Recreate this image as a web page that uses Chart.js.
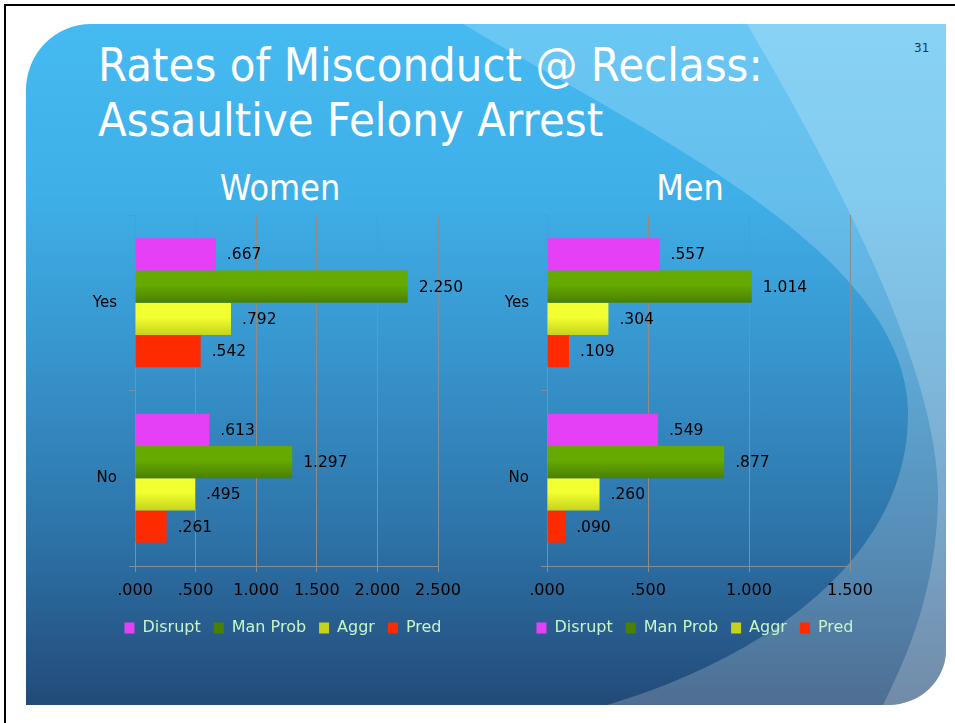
<!DOCTYPE html>
<html>
<head>
<meta charset="utf-8">
<script src="https://cdn.jsdelivr.net/npm/chart.js@4.4.1/dist/chart.umd.min.js"></script>
<style>
    html, body { margin: 0; padding: 0; }
    body { width: 955px; height: 723px; position: relative; overflow: hidden; background: #fff; font-family: 'DejaVu Sans', sans-serif; }
    #bg { position: absolute; left: 0; top: 0; }
    .txt { position: absolute; white-space: nowrap; color: #fff; }
    .title { left: 98px; font-size: 47px; line-height: 47px; transform: scaleX(0.895); transform-origin: left center; }
    .sub { width: 300px; text-align: center; font-size: 36px; line-height: 36px; transform: scaleX(0.89); transform-origin: center center; }
    .pg { left: 914px; top: 42px; font-size: 12px; line-height: 12px; color: #1c3556; }
    canvas { position: absolute; }
</style>
</head>
<body>
<svg id="bg" width="955" height="723">
    <defs>
        <linearGradient id="slideFill" x1="0" y1="24" x2="0" y2="705" gradientUnits="userSpaceOnUse">
            <stop offset="0" stop-color="#45baf1"/>
            <stop offset="0.25" stop-color="#3fafe8"/>
            <stop offset="0.5" stop-color="#3793cb"/>
            <stop offset="0.75" stop-color="#2d73a8"/>
            <stop offset="1" stop-color="#234a78"/>
        </linearGradient>
        <clipPath id="slideClip">
            <path d="M26,90 A65,66 0 0 1 91,24 L946,24 L946,650 A58,55 0 0 1 888,705 L26,705 Z"/>
        </clipPath>
    </defs>
    <rect x="4" y="4" width="951" height="2" fill="#000"/>
    <rect x="4" y="4" width="2" height="719" fill="#000"/>
    <path d="M26,90 A65,66 0 0 1 91,24 L946,24 L946,650 A58,55 0 0 1 888,705 L26,705 Z" fill="url(#slideFill)"/>
    <g clip-path="url(#slideClip)">
        <path d="M463,24 C640,130 905,250 908,411 C910,560 760,660 607,705 L946,705 L946,24 Z" fill="#fff" fill-opacity="0.2"/>
        <path d="M747,24 C850,200 940,380 938,500 C936,600 900,670 883,705 L946,705 L946,24 Z" fill="#fff" fill-opacity="0.2"/>
    </g>
</svg>

<div class="txt title" style="top:41px">Rates of Misconduct @ Reclass:</div>
<div class="txt title" style="top:96px">Assaultive Felony Arrest</div>
<div class="txt pg">31</div>
<div class="txt sub" style="left:130px; top:170px">Women</div>
<div class="txt sub" style="left:540px; top:170px">Men</div>

<canvas id="womenChart" width="394" height="452" style="left:86px; top:194px"></canvas>
<canvas id="menChart" width="393" height="452" style="left:498px; top:194px"></canvas>

<script>
const groups = ['Yes', 'No'];
const seriesNames = ['Disrupt', 'Man Prob', 'Aggr', 'Pred'];

const womenDisrupt = [0.667, 0.613];
const womenManProb = [2.250, 1.297];
const womenAggr = [0.792, 0.495];
const womenPred = [0.542, 0.261];

const menDisrupt = [0.557, 0.549];
const menManProb = [1.014, 0.877];
const menAggr = [0.304, 0.260];
const menPred = [0.109, 0.090];

const womenAxisMax = 2.5;
const menAxisMax = 1.5;
const axisStep = 0.5;

Chart.defaults.font.family = "'DejaVu Sans', sans-serif";
Chart.defaults.color = '#000';

const CAT_PCT = 0.735;
const gridColor = '#8c8c8c';

// ".667" style: three decimals, no leading zero
function fmt(v) {
    return v.toFixed(3).replace(/^0/, '');
}

// vertical gradient per bar, worked out from the category scale
function barFill(topColor, bottomColor) {
    return (ctx) => {
        const chart = ctx.chart;
        const y = chart.scales && chart.scales.y;
        if (!chart.chartArea || !y || ctx.dataIndex === undefined) return topColor;
        const catSize = y.height / groups.length;
        const groupH = catSize * CAT_PCT;
        const barH = groupH / seriesNames.length;
        const center = y.getPixelForValue(ctx.dataIndex);
        const y0 = center - groupH / 2 + ctx.datasetIndex * barH;
        const g = chart.ctx.createLinearGradient(0, y0, 0, y0 + barH);
        g.addColorStop(0, topColor);
        g.addColorStop(0.45, topColor);
        g.addColorStop(1, bottomColor);
        return g;
    };
}

const valueLabels = {
    id: 'valueLabels',
    afterDatasetsDraw(chart) {
        const ctx = chart.ctx;
        ctx.save();
        ctx.font = "15.5px 'DejaVu Sans', sans-serif";
        ctx.fillStyle = '#000';
        ctx.textAlign = 'left';
        ctx.textBaseline = 'middle';
        chart.data.datasets.forEach((ds, i) => {
            chart.getDatasetMeta(i).data.forEach((bar, j) => {
                ctx.fillText(fmt(ds.data[j]), bar.x + 11, bar.y + 1);
            });
        });
        ctx.restore();
    }
};

// the slide centres the legend under the whole chart, not under the padded box
const legendShift = {
    id: 'legendShift',
    afterLayout(chart, args, opts) {
        if (!chart.legend) return;
        chart.legend.left += opts.dx;
        chart.legend.right += opts.dx;
    }
};

function makeChart(id, disrupt, manProb, aggr, pred, axisMax, padRight, legendDx) {
    return new Chart(document.getElementById(id), {
        type: 'bar',
        data: {
            labels: groups,
            datasets: [
                { label: seriesNames[0], data: disrupt, backgroundColor: '#e640f7' },
                { label: seriesNames[1], data: manProb, backgroundColor: barFill('#66a900', '#4b8000') },
                { label: seriesNames[2], data: aggr, backgroundColor: barFill('#f2ff30', '#c6d31c') },
                { label: seriesNames[3], data: pred, backgroundColor: '#ff2b00' }
            ]
        },
        options: {
            indexAxis: 'y',
            responsive: false,
            animation: false,
            categoryPercentage: CAT_PCT,
            barPercentage: 1,
            layout: { padding: { top: 9, right: padRight, left: 0, bottom: 0 } },
            scales: {
                x: {
                    min: 0,
                    max: axisMax,
                    afterFit: s => { s.height = 41; },
                    ticks: {
                        stepSize: axisStep,
                        padding: 9,
                        color: '#000',
                        font: { size: 16 },
                        callback: v => fmt(v)
                    },
                    grid: { color: gridColor, tickLength: 6, drawTicks: true },
                    border: { color: gridColor }
                },
                y: {
                    afterFit: s => { s.width = 49; },
                    ticks: { padding: 12, color: '#000', font: { size: 15 } },
                    grid: { offset: true, drawOnChartArea: false, drawTicks: true, tickLength: 6, color: gridColor },
                    border: { color: gridColor }
                }
            },
            plugins: {
                legend: {
                    position: 'bottom',
                    labels: {
                        boxWidth: 10,
                        boxHeight: 11,
                        padding: 13,
                        color: '#c8f5c8',
                        font: { size: 16 }
                    }
                },
                legendShift: { dx: legendDx },
                tooltip: { enabled: false }
            }
        },
        plugins: [valueLabels, legendShift]
    });
}

makeChart('womenChart', womenDisrupt, womenManProb, womenAggr, womenPred, womenAxisMax, 42, 21);
makeChart('menChart', menDisrupt, menManProb, menAggr, menPred, menAxisMax, 41, 21);
</script>
</body>
</html>
